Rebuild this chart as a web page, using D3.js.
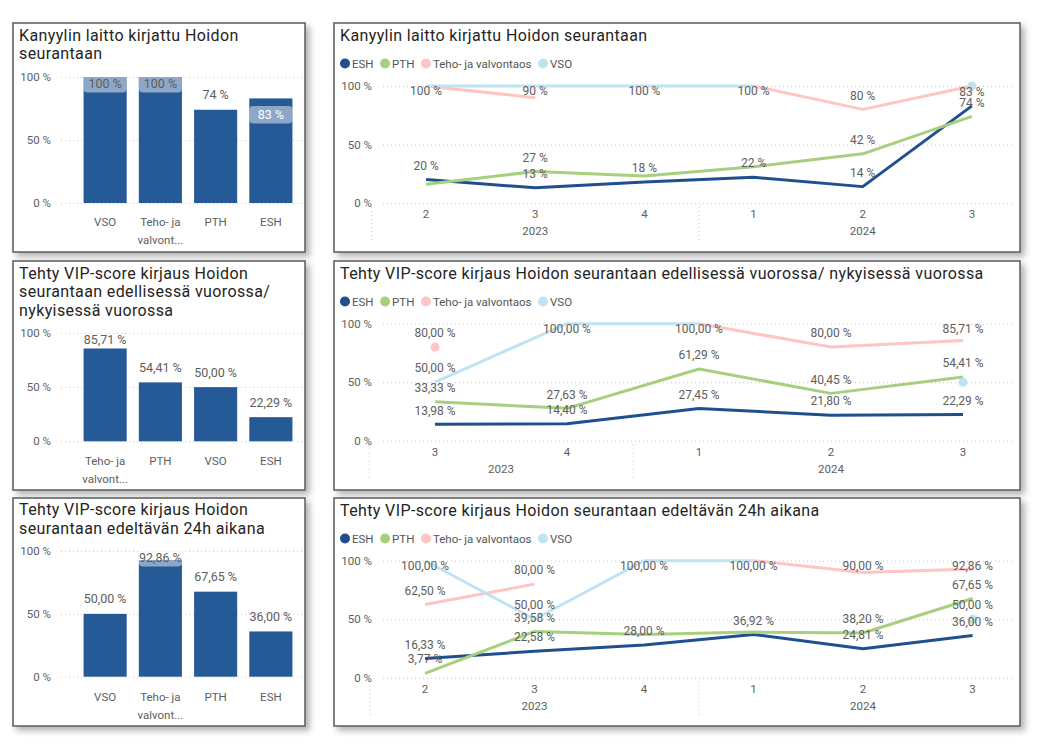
<!DOCTYPE html>
<html>
<head>
<meta charset="utf-8">
<script src="https://cdn.jsdelivr.net/npm/d3@7"></script>
<style>
  body { margin: 0; background: #fff; }
  svg text { font-family: Roboto, "Noto Sans", sans-serif; }
</style>
</head>
<body>
<svg id="chart" width="1043" height="745"></svg>
<script>
// ---- data ----
const seriesNames = ["ESH", "PTH", "Teho- ja valvontaos", "VSO"];
const seriesColors = ["#1f4f8e", "#a6d07e", "#ffc4c4", "#c0e3f3"];
const barColor = "#265a96";

const barCats1 = ["VSO", "Teho- ja valvontaos", "PTH", "ESH"];
const barVals1 = [100, 100, 74, 83];
const barCats2 = ["Teho- ja valvontaos", "PTH", "VSO", "ESH"];
const barVals2 = [85.71, 54.41, 50.00, 22.29];
const barCats3 = ["VSO", "Teho- ja valvontaos", "PTH", "ESH"];
const barVals3 = [50.00, 92.86, 67.65, 36.00];

const yTicks = [0, 50, 100];

// chart 1: Kanyylin laitto
const quarters1 = ["2", "3", "4", "1", "2", "3"];
const years1 = ["2023", "2023", "2023", "2024", "2024", "2024"];
const esh1 = [20, 13, 18, 22, 14, 83];
const pth1 = [16, 27, 23, 31, 42, 74];
const teho1 = [100, 90, null, 100, 80, 100];
const vso1 = [100, 100, 100, 100, null, 100];
// which data labels are visible (1 = shown)
const shown1 = [
  [1, 1, 1, 1, 1, 1],
  [0, 1, 0, 0, 1, 1],
  [1, 1, 0, 1, 1, 0],
  [0, 0, 1, 0, 0, 0]
];

// chart 2: edellisessä / nykyisessä vuorossa
const quarters2 = ["3", "4", "1", "2", "3"];
const years2 = ["2023", "2023", "2024", "2024", "2024"];
const esh2 = [13.98, 14.40, 27.45, 21.80, 22.29];
const pth2 = [33.33, 27.63, 61.29, 40.45, 54.41];
const teho2 = [80.00, null, 100.00, 80.00, 85.71];
const vso2 = [50.00, 100.00, 100.00, null, 50.00];
const shown2 = [
  [1, 1, 1, 1, 1],
  [1, 1, 1, 1, 1],
  [1, 0, 1, 1, 1],
  [1, 1, 0, 0, 0]
];

// chart 3: edeltävän 24h aikana
const quarters3 = ["2", "3", "4", "1", "2", "3"];
const years3 = ["2023", "2023", "2023", "2024", "2024", "2024"];
const esh3 = [16.33, 22.58, 28.00, 36.92, 24.81, 36.00];
const pth3 = [3.77, 39.58, 37, 39, 38.20, 67.65];
const teho3 = [62.50, 80.00, null, 100.00, 90.00, 92.86];
const vso3 = [100.00, 50.00, 100.00, 100.00, null, 50.00];
const shown3 = [
  [1, 1, 1, 1, 1, 1],
  [1, 1, 0, 0, 1, 1],
  [1, 1, 0, 1, 1, 1],
  [1, 1, 1, 0, 0, 1]
];

const title1 = "Kanyylin laitto kirjattu Hoidon seurantaan";
const title2 = "Tehty VIP-score kirjaus Hoidon seurantaan edellisessä vuorossa/ nykyisessä vuorossa";
const title3 = "Tehty VIP-score kirjaus Hoidon seurantaan edeltävän 24h aikana";

const fmtInt = v => Math.round(v) + " %";
const fmtDec = v => v.toFixed(2).replace(".", ",") + " %";
const tickLines = name => name === "Teho- ja valvontaos" ? ["Teho- ja", "valvont..."] : [name];

const textColor = "#605e5c";
const titleColor = "#252423";

const svg = d3.select("#chart");

const defs = svg.append("defs");
defs.append("filter")
  .attr("id", "shadow")
  .attr("x", "-5%").attr("y", "-5%").attr("width", "115%").attr("height", "120%")
  .append("feDropShadow")
  .attr("dx", 4).attr("dy", 4).attr("stdDeviation", 3)
  .attr("flood-color", "#000").attr("flood-opacity", 0.3);

function panel(x, y, w, h) {
  svg.append("rect")
    .attr("x", x).attr("y", y).attr("width", w).attr("height", h)
    .attr("fill", "#fff")
    .attr("stroke", "#5a5a5a").attr("stroke-width", 1.5)
    .attr("filter", "url(#shadow)");
}

function title(lines, x, y0) {
  const t = svg.append("text")
    .attr("x", x).attr("y", y0)
    .attr("fill", titleColor).attr("font-size", "16px")
    .attr("letter-spacing", "0.38px");
  lines.forEach((l, i) => {
    t.append("tspan").attr("x", x).attr("dy", i === 0 ? "0.35em" : "1.17em").text(l);
  });
}

function styleYAxis(g) {
  g.select(".domain").remove();
  g.selectAll(".tick line")
    .attr("stroke", "#c8c8c8").attr("stroke-dasharray", "1,3");
  g.selectAll(".tick text")
    .attr("fill", textColor).attr("font-size", "11.5px");
}

// ---- bar chart (left column) ----
function drawBar(cfg) {
  const y = d3.scaleLinear().domain([0, 100]).range([cfg.bottom, cfg.top]);
  const x = d3.scaleBand().domain(cfg.cats).range([77.5, 298.5])
    .paddingInner(0.22).paddingOuter(0.11);

  svg.append("g")
    .attr("transform", `translate(61,0)`)
    .call(d3.axisLeft(y).tickValues(yTicks).tickSize(-242).tickPadding(10)
      .tickFormat(d => d + " %"))
    .call(styleYAxis);

  svg.append("g").selectAll("rect")
    .data(cfg.vals)
    .join("rect")
    .attr("x", (d, i) => x(cfg.cats[i]))
    .attr("y", d => y(d))
    .attr("width", x.bandwidth())
    .attr("height", d => cfg.bottom - y(d))
    .attr("fill", barColor);

  // data labels
  const limit = cfg.top + 6.5;
  cfg.vals.forEach((v, i) => {
    const barTop = y(v);
    let ly, inside = false, clamped = false;
    if (barTop - 15 >= limit) ly = barTop - 15;
    else if (barTop - cfg.top < 18) { ly = limit; clamped = true; }
    else { ly = barTop + 16; inside = true; }
    if (cfg.labelBox && (inside || clamped)) {
      svg.append("rect")
        .attr("x", x(cfg.cats[i])).attr("y", ly - 8.5)
        .attr("width", x.bandwidth()).attr("height", 17.5)
        .attr("rx", 4)
        .attr("fill", "#fff").attr("fill-opacity", 0.47);
    }
    svg.append("text")
      .attr("x", x(cfg.cats[i]) + x.bandwidth() / 2)
      .attr("y", ly).attr("dy", "0.35em")
      .attr("text-anchor", "middle")
      .attr("font-size", "12.5px")
      .attr("fill", inside ? "#fff" : textColor)
      .text(cfg.fmt(v));
  });

  // category axis
  const ax = svg.append("g")
    .attr("transform", `translate(0,${cfg.tickY})`)
    .call(d3.axisBottom(x).tickSize(0).tickPadding(0));
  ax.select(".domain").remove();
  ax.selectAll(".tick text").each(function(d) {
    const t = d3.select(this).text(null)
      .attr("fill", textColor).attr("font-size", "11.5px").attr("dy", null);
    tickLines(d).forEach((l, k) => {
      t.append("tspan").attr("x", 0).attr("dy", k === 0 ? "0.35em" : "1.55em").text(l);
    });
  });
}

// ---- line chart (right column) ----
function drawLine(cfg) {
  const n = cfg.quarters.length;
  const y = d3.scaleLinear().domain([0, 100]).range([cfg.bottom, cfg.top]);
  const xb = d3.scaleBand().domain(d3.range(n)).range(cfg.xRange);
  const step = xb.step();
  const x = i => xb(i) + step / 2;

  // legend
  let lx = 345;
  seriesNames.forEach((name, i) => {
    svg.append("circle").attr("cx", lx).attr("cy", cfg.legendY).attr("r", 5)
      .attr("fill", seriesColors[i]);
    const t = svg.append("text")
      .attr("x", lx + 7).attr("y", cfg.legendY).attr("dy", "0.35em")
      .attr("font-size", "11.5px").attr("fill", "#555")
      .text(name);
    lx += 7 + t.node().getComputedTextLength() + 11.5;
  });

  svg.append("g")
    .attr("transform", `translate(383,0)`)
    .call(d3.axisLeft(y).tickValues(yTicks).tickSize(-632).tickPadding(11)
      .tickFormat(d => d + " %"))
    .call(styleYAxis);

  // quarter ticks
  const ax = svg.append("g")
    .attr("transform", `translate(0,${cfg.bottom + 11})`)
    .call(d3.axisBottom(xb).tickSize(0).tickPadding(0).tickFormat(i => cfg.quarters[i]));
  ax.select(".domain").remove();
  ax.selectAll(".tick text").attr("fill", textColor).attr("font-size", "11.5px").attr("dy", "0.35em");

  // year groups and separators
  const groups = d3.groups(d3.range(n), i => cfg.years[i]);
  groups.forEach(([yr, idx]) => {
    svg.append("text")
      .attr("x", d3.mean(idx, x)).attr("y", cfg.bottom + 28).attr("dy", "0.35em")
      .attr("text-anchor", "middle").attr("font-size", "11.5px").attr("fill", textColor)
      .text(yr);
    const sx = xb(idx[0]);
    svg.append("line")
      .attr("x1", sx).attr("x2", sx)
      .attr("y1", cfg.bottom + 4).attr("y2", cfg.bottom + 39)
      .attr("stroke", "#c8c8c8").attr("stroke-dasharray", "1,3");
  });

  const line = d3.line()
    .defined(d => d != null)
    .x((d, i) => x(i))
    .y(d => y(d));

  cfg.data.forEach((vals, s) => {
    svg.append("path")
      .attr("d", line(vals))
      .attr("fill", "none")
      .attr("stroke", seriesColors[s])
      .attr("stroke-width", 3)
      .attr("stroke-linejoin", "round");
    // isolated points
    vals.forEach((v, i) => {
      if (v == null) return;
      const prev = i > 0 ? vals[i - 1] : null;
      const next = i < n - 1 ? vals[i + 1] : null;
      if (prev == null && next == null) {
        svg.append("circle").attr("cx", x(i)).attr("cy", y(v)).attr("r", 4.5)
          .attr("fill", seriesColors[s]);
      }
    });
  });

  // data labels
  cfg.data.forEach((vals, s) => {
    vals.forEach((v, i) => {
      if (v == null || !cfg.shown[s][i]) return;
      const ly = Math.max(y(v) - 14, cfg.top + 5);
      svg.append("text")
        .attr("x", x(i)).attr("y", ly).attr("dy", "0.35em")
        .attr("text-anchor", "middle").attr("font-size", "12px")
        .attr("fill", textColor)
        .text(cfg.fmt(v));
    });
  });
}

// ---- panels ----
const rows = [[23, 229], [261, 229], [498, 228]];
rows.forEach(([top, h]) => {
  panel(13, top, 292, h);
  panel(334, top, 686, h);
});

// row 1
title(["Kanyylin laitto kirjattu Hoidon", "seurantaan"], 19, 35);
drawBar({ cats: barCats1, vals: barVals1, top: 77, bottom: 203, fmt: fmtInt, labelBox: true, tickY: 222 });
title([title1], 340, 35);
drawLine({
  quarters: quarters1, years: years1, data: [esh1, pth1, teho1, vso1], shown: shown1,
  top: 86, bottom: 203, xRange: [371.5, 1026.5], legendY: 63.5, fmt: fmtInt
});

// row 2
title(["Tehty VIP-score kirjaus Hoidon", "seurantaan edellisessä vuorossa/", "nykyisessä vuorossa"], 19, 273);
drawBar({ cats: barCats2, vals: barVals2, top: 333, bottom: 441.3, fmt: fmtDec, labelBox: false, tickY: 461 });
title([title2], 340, 273);
drawLine({
  quarters: quarters2, years: years2, data: [esh2, pth2, teho2, vso2], shown: shown2,
  top: 323.7, bottom: 440.7, xRange: [369, 1029], legendY: 301.5, fmt: fmtDec
});

// row 3
title(["Tehty VIP-score kirjaus Hoidon", "seurantaan edeltävän 24h aikana"], 19, 509.5);
drawBar({ cats: barCats3, vals: barVals3, top: 551, bottom: 676.7, fmt: fmtDec, labelBox: true, tickY: 697 });
title([title3], 340, 510);
drawLine({
  quarters: quarters3, years: years3, data: [esh3, pth3, teho3, vso3], shown: shown3,
  top: 560.7, bottom: 677.7, xRange: [370.3, 1027.3], legendY: 538.5, fmt: fmtDec
});
</script>
</body>
</html>
